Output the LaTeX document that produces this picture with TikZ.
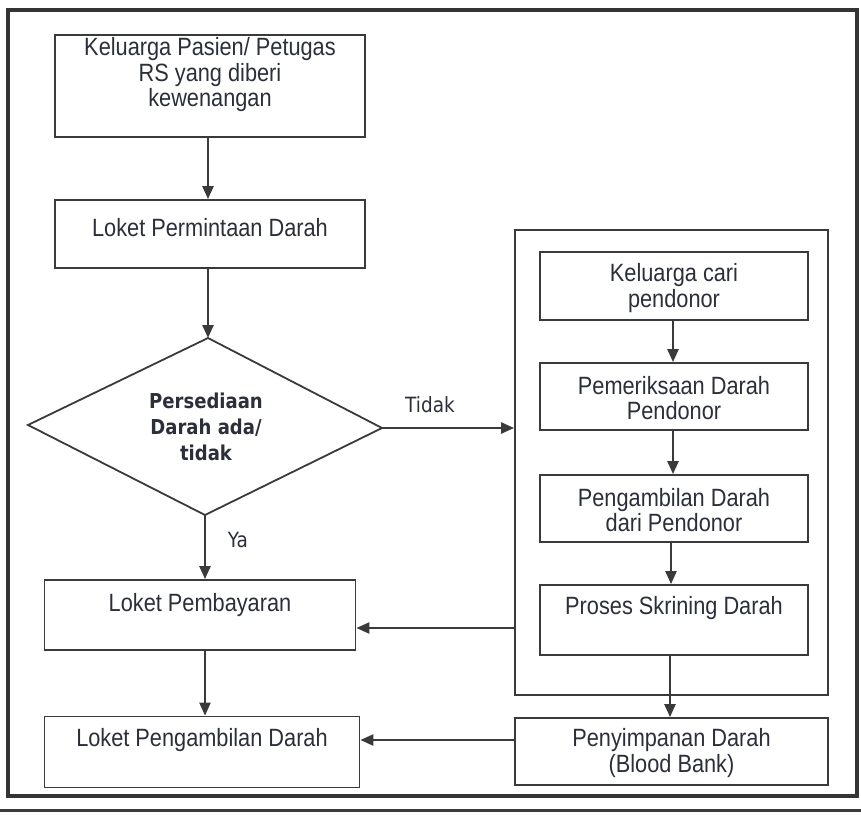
\documentclass[tikz,border=0pt]{standalone}
\usepackage{fontspec}
\setmainfont{Liberation Sans}[FakeStretch=0.87]
\newfontfamily\dvsans{DejaVu Sans}[FakeStretch=0.88]
\usetikzlibrary{arrows.meta,calc}
\definecolor{ink}{HTML}{3A3A3A}
\definecolor{txtc}{HTML}{2B2F3A}
\tikzset{
  box/.style={draw=ink, line width=1.8pt, rectangle, inner sep=0pt},
  txt/.style={text=txtc, align=center, font=\fontsize{25}{25.5}\selectfont, inner sep=0pt},
  dtxt/.style={text=txtc, align=center, font=\dvsans\bfseries\fontsize{20.5}{26}\selectfont, inner sep=0pt},
  lbl/.style={text=txtc, font=\dvsans\fontsize{21}{22}\selectfont, inner sep=0pt},
  flow/.style={draw=ink, line width=2.4pt, -{Triangle[length=13pt,width=11pt]}},
  frame/.style={draw=ink!90!black, line width=4pt},
}
\begin{document}
\begin{tikzpicture}[x=1pt,y=-1pt]
\useasboundingbox (0,0) rectangle (861,827);

% outer frame
\draw[frame] (8,796) -- (8,10) -- (857,10) -- (857,796) -- cycle;
\draw[draw=ink, line width=3pt] (0,810) -- (861,810);

% left column
\node[box, minimum width=310pt, minimum height=102pt] (b1) at (210,86) {};
\node[txt] (t1) at (210,75) {Keluarga Pasien/ Petugas\\RS yang diberi\\kewenangan};

\node[box, minimum width=310pt, minimum height=68pt] (b2) at (210,234) {};
\node[txt] (t2) at (210,228) {Loket Permintaan Darah};

% decision
\coordinate (dl) at (28,425);
\coordinate (dt) at (208,338);
\coordinate (dr) at (382,428);
\coordinate (db) at (205,515);
\draw[draw=ink, line width=1.8pt, line join=miter] (dl) -- (dt) -- (dr) -- (db) -- cycle;
\node[dtxt] (dq) at (206,427) {Persediaan\\Darah ada/\\tidak};

\node[box, minimum width=311pt, minimum height=70pt] (b3) at (200,615) {};
\node[txt] (t3) at (200,605) {Loket Pembayaran};

\node[box, minimum width=315pt, minimum height=71pt] (b4) at (202,752) {};
\node[txt] (t4) at (202,740) {Loket Pengambilan Darah};

% right column: donor process
\node[box, minimum width=313pt, minimum height=465pt] (R) at (671.5,462.5) {};

\node[box, minimum width=268pt, minimum height=68pt] (k1) at (674,286) {};
\node[txt] (tk1) at (674,288) {Keluarga cari\\pendonor};
\node[box, minimum width=268pt, minimum height=67pt] (k2) at (674,396.5) {};
\node[txt] (tk2) at (674,398) {Pemeriksaan Darah\\Pendonor};
\node[box, minimum width=268pt, minimum height=67pt] (k3) at (674,508.5) {};
\node[txt] (tk3) at (674,510) {Pengambilan Darah\\dari Pendonor};
\node[box, minimum width=268pt, minimum height=70pt] (k4) at (674,620) {};
\node[txt] (tk4) at (674,608) {Proses Skrining Darah};

\node[box, minimum width=313pt, minimum height=67pt] (P) at (671.5,751.5) {};
\node[txt] (tp) at (671.5,753) {Penyimpanan Darah\\(Blood Bank)};

% connectors
\draw[flow] (b1.south -| 208,0) -- (b2.north -| 208,0);
\draw[flow] (b2.south -| 208,0) -- (dt);
\draw[flow] (dr) -- (R.west |- dr);
\node[lbl] (tidak) at (430,405) {Tidak};
\draw[flow] (db) -- (db |- b3.north);
\node[lbl] (ya) at (238,540) {Ya};
\draw[flow] (b3.south -| db) -- (b4.north -| db);

\draw[flow] (k1.south -| 673,0) -- (k2.north -| 673,0);
\draw[flow] (k2.south -| 673,0) -- (k3.north -| 673,0);
\draw[flow] (k3.south -| 671,0) -- (k4.north -| 671,0);
\coordinate (rj) at (R.west |- 0,628);
\draw[flow] (rj) -- (b3.east |- rj);
\draw[flow] (k4.south -| 670,0) -- (P.north -| 670,0);
\coordinate (pj) at (P.west |- 0,740);
\draw[flow] (pj) -- (b4.east |- pj);
\end{tikzpicture}
\end{document}
